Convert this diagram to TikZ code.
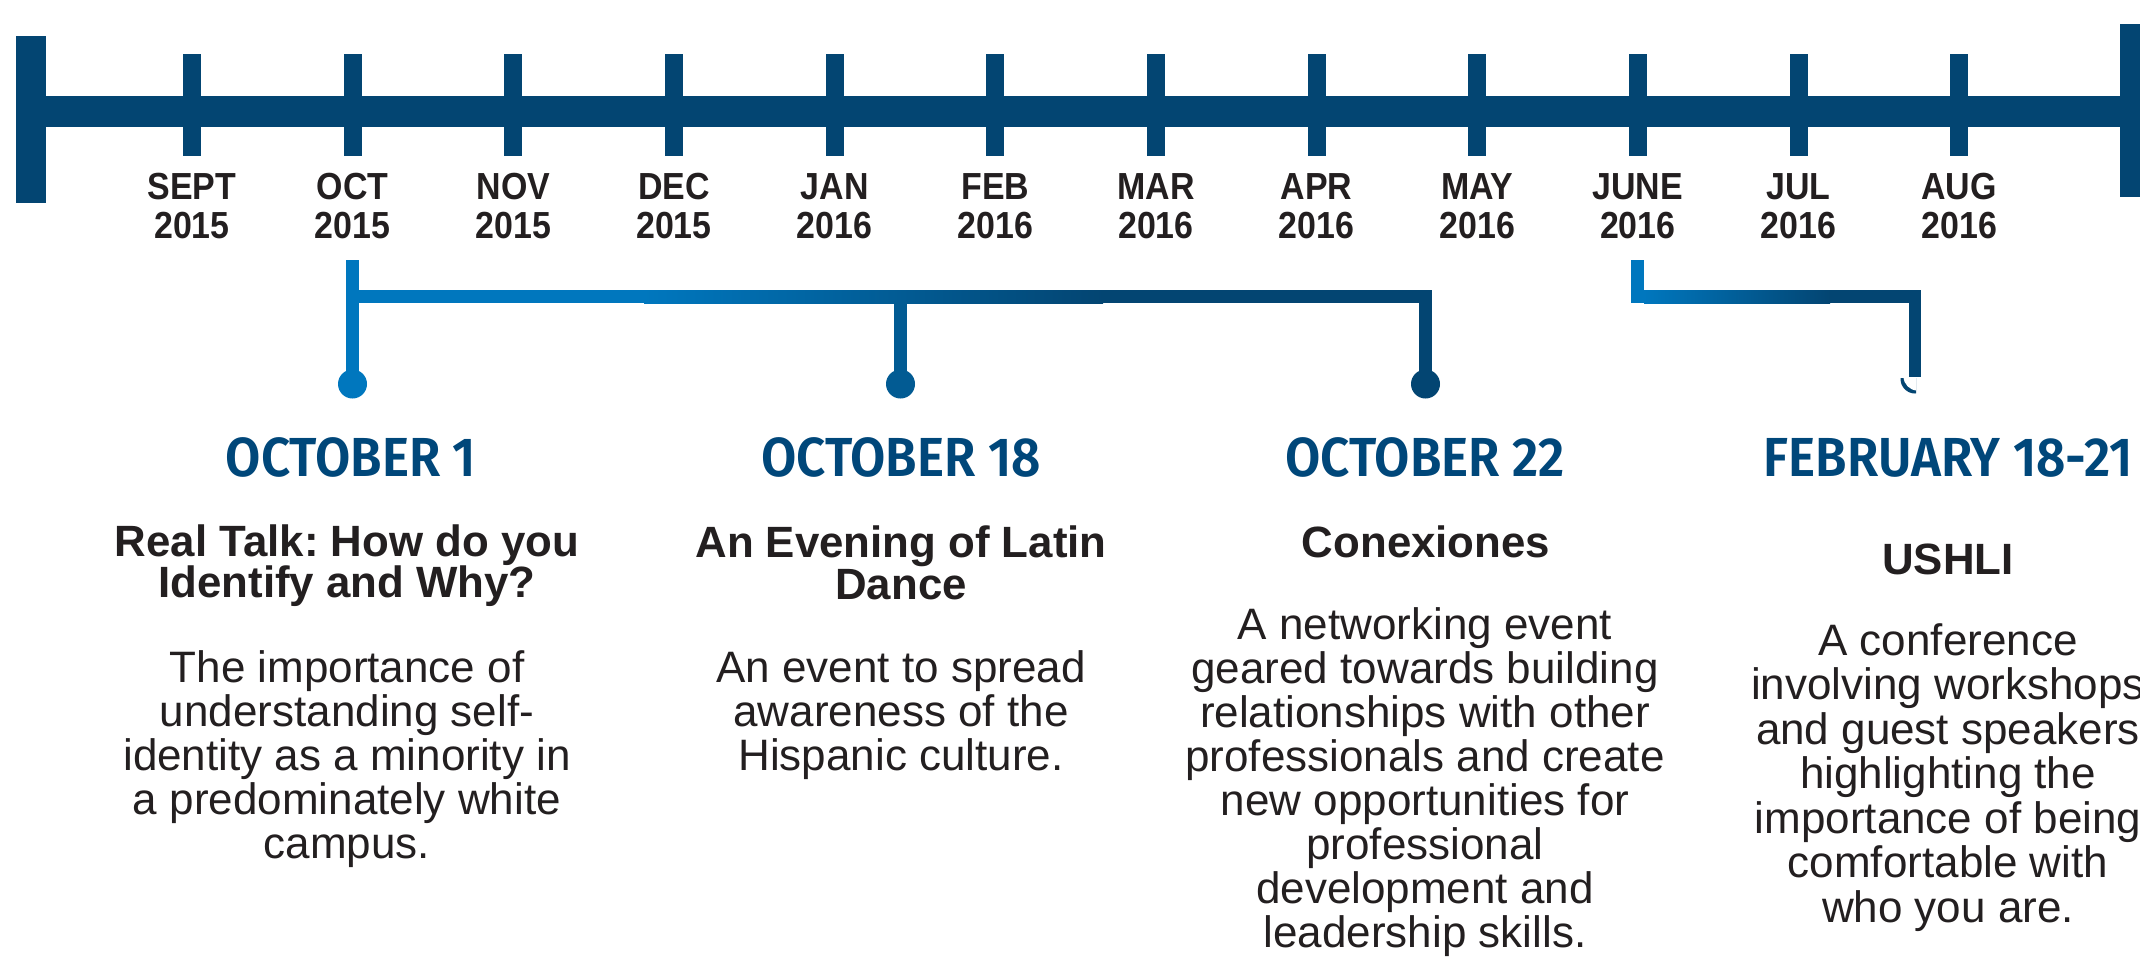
\documentclass[tikz,border=0pt]{standalone}
\usepackage{fontspec}
\setmainfont{Liberation Sans}
\newfontfamily\monthfont[FakeStretch=0.9]{Liberation Sans}
\newfontfamily\headfont[FakeStretch=0.93]{Fira Sans SemiBold}
\definecolor{navy}{RGB}{3,69,114}
\definecolor{lb}{RGB}{0,119,190}
\definecolor{headc}{RGB}{0,71,122}
\definecolor{txt}{RGB}{35,31,32}
\colorlet{midc}{lb!44!navy}
\frenchspacing
\tikzset{
  month/.style={font=\monthfont\bfseries\fontsize{37.7}{39}\selectfont, text=txt, inner sep=0pt, anchor=base},
  head/.style={font=\headfont\fontsize{55}{55}\selectfont, text=headc, inner sep=0pt, anchor=base},
  ttl/.style={font=\bfseries\fontsize{43.8}{43.8}\selectfont, text=txt, inner sep=0pt, anchor=base},
  body/.style={font=\fontsize{44}{44}\selectfont, text=txt, inner sep=0pt, anchor=base},
}
\begin{document}
\begin{tikzpicture}[x=1pt,y=-1pt]
\useasboundingbox (0,0) rectangle (2140,961);
\clip (0,0) rectangle (2140,961);
\fill[white] (0,0) rectangle (2140,961);
% main timeline
\fill[navy] (16,36) rectangle (46,203);
\fill[navy] (46,96) rectangle (2120,127);
\fill[navy] (2120,24) rectangle (2145,197);
\foreach \m/\yr [count=\i from 0] in {SEPT/2015,OCT/2015,NOV/2015,DEC/2015,JAN/2016,FEB/2016,MAR/2016,APR/2016,MAY/2016,JUNE/2016,JUL/2016,AUG/2016}{
  \fill[navy] ({192+160.65*\i-9},54) rectangle ++(18,102);
  \node[month] (m\i) at ({192+160.65*\i},199) {\m};
  \node[month] (y\i) at ({192+160.65*\i},238) {\yr};
}
% bracket 1
\fill[lb] (346,260) rectangle (359,372);
\fill[lb] (352.5,384) circle (14.5);
\fill[lb] (346,290) rectangle (644,303);
\fill[left color=lb, right color=navy] (644,290) rectangle (1103,303);
\fill[navy] (1103,290) rectangle (1432,303);
\fill[midc] (894,303) rectangle (907,372);
\fill[midc] (900.5,384) circle (14.5);
\fill[navy] (1419,303) rectangle (1432,372);
\fill[navy] (1425.5,384) circle (14.5);
% bracket 2
\begin{scope}
  \clip (1895,378) rectangle (1916,400);
  \fill[navy] (1915,379) circle (14.5);
  \fill[white] (1917.5,376.5) circle (14);
\end{scope}
\fill[lb] (1631,260) rectangle (1644,303);
\fill[left color=lb, right color=navy] (1644,290) rectangle (1830,303);
\fill[navy] (1830,290) rectangle (1921,303);
\fill[navy] (1909,303) rectangle (1921,377);
% headings
\node[head] (h1) at (351,476) {OCTOBER 1};
\node[head] (h2) at (901,476) {OCTOBER 18};
\node[head] (h3) at (1425,476) {OCTOBER 22};
\node[head] (h4) at (1948,476) {FEBRUARY 18-21};
% titles
\node[ttl] (t1a) at (347,556) {Real Talk: How do you};
\node[ttl] (t1b) at (347,597) {Identify and Why?};
\node[ttl] (t2a) at (901,557) {An Evening of Latin};
\node[ttl] (t2b) at (901,599) {Dance};
\node[ttl] (t3) at (1426,557) {Conexiones};
\node[ttl] (t4) at (1948,574) {USHLI};
% bodies
\foreach \t [count=\i from 0] in {The importance of,understanding self-,identity as a minority in,a predominately white,campus.}
  \node[body] (a\i) at (347,682+44*\i) {\t};
\foreach \t [count=\i from 0] in {An event to spread,awareness of the,Hispanic culture.}
  \node[body] (b\i) at (901,682+44*\i) {\t};
\foreach \t [count=\i from 0] in {A networking event,geared towards building,relationships with other,professionals and create,new opportunities for,professional,development and,leadership skills.}
  \node[body] (c\i) at (1425,639+44*\i) {\t};
\foreach \t [count=\i from 0] in {A conference,involving workshops,and guest speakers,highlighting the,importance of being,comfortable with,who you are.}
  \node[body] (d\i) at (1948,655+44.5*\i) {\t};
\end{tikzpicture}
\end{document}
